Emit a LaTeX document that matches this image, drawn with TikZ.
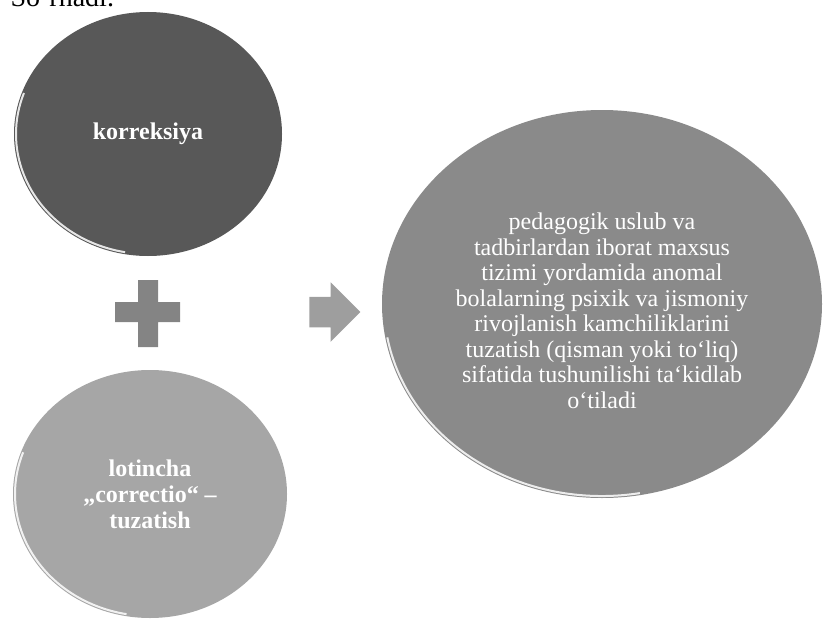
\documentclass[tikz,border=0pt]{standalone}
\usepackage{fontspec}
\setmainfont{Liberation Serif}
\usetikzlibrary{shapes.geometric,shapes.arrows}
\definecolor{darkdisc}{RGB}{88,88,88}
\definecolor{lightdisc}{RGB}{166,166,166}
\definecolor{bigdisc}{RGB}{138,138,138}
\definecolor{plusgray}{RGB}{132,132,132}
\definecolor{arrowgray}{RGB}{158,158,158}

\begin{document}
\begin{tikzpicture}[x=1pt, y=-1pt, line width=0.5pt]
\tikzset{
  disc/.style={ellipse, inner sep=0pt, align=center, text=white, font=\fontsize{24}{26}\selectfont\bfseries},
  bigdisc/.style={ellipse, inner sep=0pt, align=center, text=white, font=\fontsize{24}{25.5}\selectfont},
  rim/.style={white, opacity=0.85, line width=2pt},
  blockarrow/.style={single arrow, fill=arrowgray, inner xsep=0pt, inner ysep=15pt, single arrow head extend=14.5pt, minimum height=51pt}
}
\useasboundingbox (0,0) rectangle (824,618);

\node[anchor=base west, font=\fontsize{28}{30}\selectfont] (head) at (7,7) {So‘rnadi.};

\node[disc, fill=darkdisc, minimum width=268pt, minimum height=244pt] (corr) at (148,134) {korreksiya};
\node[disc, fill=lightdisc, minimum width=274pt, minimum height=248pt] (latin) at (150,494) {lotincha\\„correctio“ –\\tuzatish};
\node[bigdisc, fill=bigdisc, minimum width=440pt, minimum height=388pt] (meaning) at (602,304) {};
\node[bigdisc, yshift=-7pt] (meaningtext) at (meaning.center) {pedagogik uslub va\\
tadbirlardan iborat maxsus\\
tizimi yordamida anomal\\
bolalarning psixik va jismoniy\\
rivojlanish kamchiliklarini\\
tuzatish (qisman yoki to‘liq)\\
sifatida tushunilishi ta‘kidlab\\
o‘tiladi};

\draw[rim] (corr.center) ++(100:132 and 120) arc[start angle=100, end angle=200, x radius=132, y radius=120];
\draw[rim] (latin.center) ++(100:135 and 122) arc[start angle=100, end angle=200, x radius=135, y radius=122];
\draw[rim] (meaning.center) ++(80:218 and 192) arc[start angle=80, end angle=170, x radius=218, y radius=192];

\fill[plusgray] (138,280) rectangle (158,347) (115,302) rectangle (180,322);
\node[blockarrow, anchor=tail] (arw) at (309,312) {};
\end{tikzpicture}
\end{document}
